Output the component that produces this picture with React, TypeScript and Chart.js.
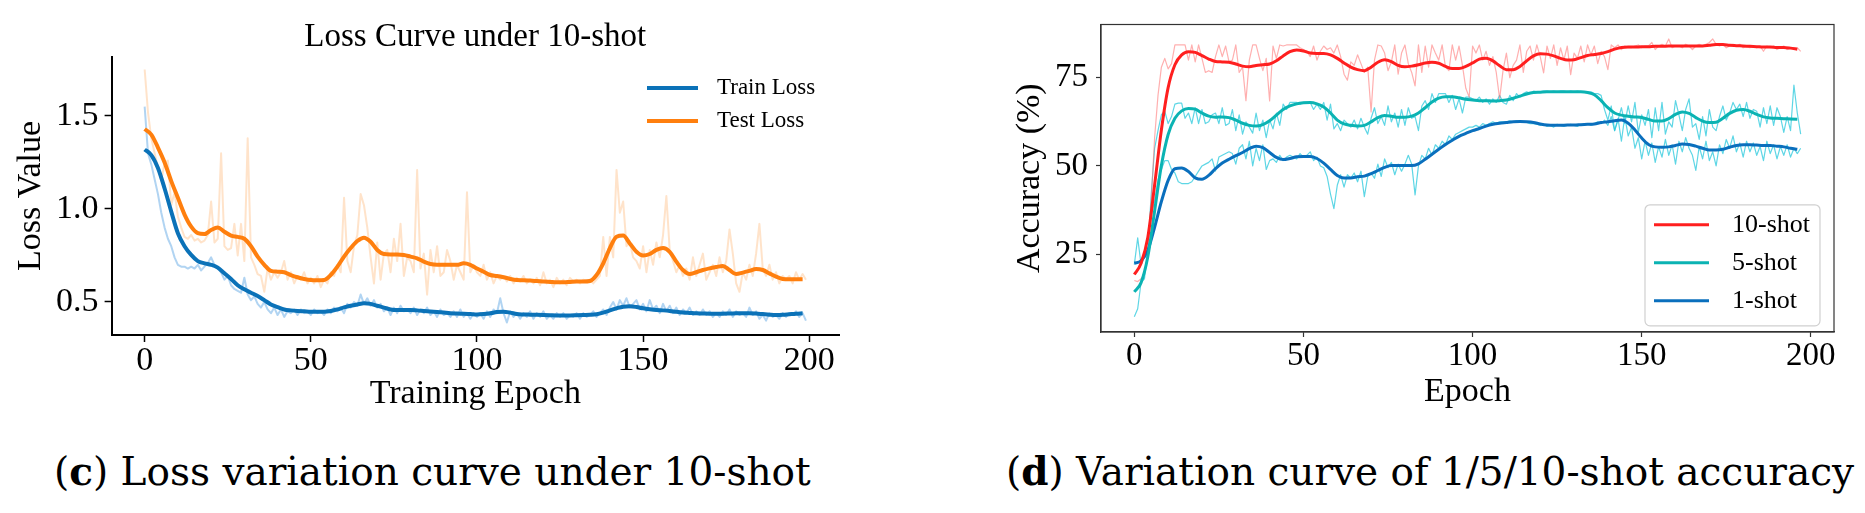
import { useEffect, useRef } from "react";
import { Chart, registerables } from "chart.js";

Chart.register(...registerables);

// ---------- (c) loss curves, epochs 0..199 ----------
const LOSS_EPOCHS = Array.from({ length: 200 }, (_, i) => i);
const LOSS_SMOOTH_EPOCHS = Array.from({ length: 100 }, (_, i) => i * 2);
const LOSS_X_TICKS = [0, 50, 100, 150, 200];
const LOSS_Y_TICKS = [0.5, 1.0, 1.5];

const TRAIN_SMOOTH = [
  1.32, 1.29, 1.22, 1.11, 0.986, 0.87, 0.80, 0.753, 0.72, 0.708,
  0.70, 0.685, 0.654, 0.624, 0.59, 0.568, 0.55, 0.532, 0.51, 0.487,
  0.473, 0.46, 0.455, 0.452, 0.45, 0.448, 0.448, 0.448, 0.452, 0.46,
  0.471, 0.48, 0.487, 0.493, 0.49, 0.48, 0.47, 0.46, 0.457, 0.457,
  0.457, 0.455, 0.452, 0.449, 0.446, 0.443, 0.44, 0.438, 0.437, 0.435,
  0.433, 0.435, 0.439, 0.446, 0.448, 0.443, 0.435, 0.433, 0.432, 0.431,
  0.43, 0.429, 0.428, 0.428, 0.428, 0.429, 0.43, 0.431, 0.434, 0.443,
  0.455, 0.466, 0.475, 0.477, 0.473, 0.466, 0.461, 0.457, 0.455, 0.452,
  0.447, 0.443, 0.441, 0.439, 0.438, 0.437, 0.437, 0.437, 0.438, 0.439,
  0.44, 0.44, 0.438, 0.435, 0.432, 0.43, 0.431, 0.434, 0.437, 0.439,
];

const TEST_SMOOTH = [
  1.43, 1.40, 1.33, 1.25, 1.15, 1.06, 0.97, 0.905, 0.87, 0.865,
  0.887, 0.90, 0.878, 0.857, 0.85, 0.84, 0.80, 0.744, 0.70, 0.667,
  0.663, 0.66, 0.645, 0.633, 0.624, 0.618, 0.617, 0.618, 0.645, 0.69,
  0.744, 0.79, 0.828, 0.846, 0.824, 0.78, 0.758, 0.756, 0.756, 0.753,
  0.744, 0.735, 0.717, 0.704, 0.70, 0.70, 0.70, 0.70, 0.708, 0.70,
  0.68, 0.663, 0.645, 0.64, 0.633, 0.624, 0.618, 0.617, 0.615, 0.613,
  0.61, 0.608, 0.606, 0.606, 0.608, 0.61, 0.61, 0.613, 0.645, 0.708,
  0.79, 0.851, 0.857, 0.815, 0.77, 0.75, 0.758, 0.78, 0.79, 0.77,
  0.717, 0.672, 0.65, 0.66, 0.672, 0.681, 0.688, 0.694, 0.672, 0.65,
  0.658, 0.667, 0.677, 0.672, 0.654, 0.636, 0.624, 0.622, 0.622, 0.622,
];

const TRAIN_RAW = [
  1.55, 1.30, 1.24, 1.16, 1.08, 0.98, 0.90, 0.84, 0.80, 0.74,
  0.70, 0.69, 0.69, 0.68, 0.69, 0.68, 0.70, 0.67, 0.69, 0.71,
  0.74, 0.70, 0.68, 0.66, 0.62, 0.64, 0.59, 0.57, 0.56, 0.55,
  0.63, 0.54, 0.51, 0.53, 0.49, 0.47, 0.50, 0.46, 0.44, 0.47,
  0.43, 0.46, 0.42, 0.45, 0.44, 0.46, 0.43, 0.46, 0.44, 0.45,
  0.43, 0.46, 0.44, 0.45, 0.43, 0.46, 0.44, 0.47, 0.45, 0.47,
  0.44, 0.49, 0.47, 0.50, 0.48, 0.54, 0.49, 0.52, 0.48, 0.51,
  0.47, 0.49, 0.45, 0.47, 0.43, 0.47, 0.44, 0.48, 0.45, 0.46,
  0.44, 0.47, 0.43, 0.46, 0.44, 0.47, 0.43, 0.45, 0.42, 0.46,
  0.43, 0.44, 0.42, 0.45, 0.42, 0.46, 0.42, 0.44, 0.41, 0.44,
  0.42, 0.44, 0.41, 0.45, 0.42, 0.46, 0.44, 0.52, 0.44, 0.39,
  0.45, 0.42, 0.44, 0.41, 0.44, 0.42, 0.45, 0.41, 0.44, 0.42,
  0.45, 0.41, 0.43, 0.41, 0.44, 0.42, 0.44, 0.41, 0.43, 0.42,
  0.44, 0.41, 0.44, 0.42, 0.43, 0.45, 0.42, 0.44, 0.46, 0.43,
  0.47, 0.50, 0.46, 0.51, 0.48, 0.52, 0.47, 0.49, 0.51, 0.46,
  0.49, 0.45, 0.51, 0.46, 0.48, 0.44, 0.49, 0.45, 0.48, 0.44,
  0.47, 0.43, 0.46, 0.44, 0.47, 0.43, 0.45, 0.43, 0.46, 0.43,
  0.45, 0.42, 0.44, 0.42, 0.45, 0.43, 0.46, 0.42, 0.45, 0.43,
  0.44, 0.42, 0.47, 0.43, 0.45, 0.41, 0.43, 0.40, 0.44, 0.42,
  0.43, 0.41, 0.44, 0.42, 0.44, 0.43, 0.45, 0.42, 0.44, 0.40,
];

const TEST_RAW = [
  1.75, 1.52, 1.38, 1.30, 1.22, 1.15, 1.25, 1.26, 1.02, 1.09,
  0.96, 0.90, 0.85, 0.84, 0.86, 0.83, 0.84, 0.82, 0.83, 0.86,
  1.04, 0.82, 0.84, 1.30, 0.80, 0.78, 0.79, 0.92, 0.75, 0.92,
  0.72, 1.38, 0.74, 0.70, 0.65, 0.64, 0.555, 0.68, 0.62, 0.66,
  0.63, 0.66, 0.72, 0.62, 0.66, 0.60, 0.64, 0.62, 0.66, 0.60,
  0.63, 0.60, 0.64, 0.58, 0.62, 0.60, 0.66, 0.64, 0.70, 0.66,
  1.06, 0.72, 0.66, 0.80, 0.86, 1.08, 1.02, 0.90, 0.74, 0.60,
  0.82, 0.62, 0.76, 0.78, 0.66, 0.84, 0.72, 0.92, 0.64, 0.74,
  0.72, 0.66, 1.21, 0.68, 0.76, 0.54, 0.78, 0.66, 0.80, 0.64,
  0.66, 0.78, 0.72, 0.62, 0.70, 0.66, 0.62, 1.09, 0.66, 0.70,
  0.66, 0.64, 0.70, 0.62, 0.66, 0.60, 0.64, 0.62, 0.64, 0.61,
  0.64, 0.60, 0.63, 0.61, 0.64, 0.60, 0.62, 0.60, 0.63, 0.59,
  0.66, 0.60, 0.62, 0.58, 0.63, 0.60, 0.62, 0.59, 0.63, 0.61,
  0.62, 0.60, 0.62, 0.61, 0.62, 0.60, 0.62, 0.64, 0.85, 0.64,
  0.85, 0.74, 1.21, 0.98, 1.04, 0.80, 0.82, 0.74, 0.72, 0.68,
  0.80, 0.66, 0.78, 0.70, 0.82, 0.74, 0.86, 1.07, 0.78, 0.72,
  0.66, 0.70, 0.64, 0.68, 0.62, 0.74, 0.64, 0.70, 0.76, 0.62,
  0.66, 0.70, 0.64, 0.74, 0.66, 0.72, 0.89, 0.76, 0.60, 0.555,
  0.66, 0.62, 0.70, 0.64, 0.76, 0.92, 0.68, 0.64, 0.70, 0.62,
  0.66, 0.60, 0.64, 0.62, 0.64, 0.60, 0.66, 0.62, 0.65, 0.62,
];

// ---------- (d) accuracy curves, epochs 0..197 ----------
const ACC_EPOCHS = Array.from({ length: 198 }, (_, i) => i);
const ACC_SMOOTH_EPOCHS = Array.from({ length: 99 }, (_, i) => i * 2);
const ACC_X_TICKS = [0, 50, 100, 150, 200];
const ACC_Y_TICKS = [25, 50, 75];

const SHOT10_SMOOTH = [
  19.2, 22.4, 29.8, 44.6, 60.2, 72.2, 78.7, 81.5, 82.4, 82.2,
  81.3, 80.3, 79.6, 79.5, 79.4, 78.9, 78.3, 78.1, 78.5, 78.7,
  78.9, 79.8, 81.2, 82.4, 82.9, 82.6, 82.0, 81.9, 81.9, 81.5,
  80.5, 79.2, 78.0, 77.3, 77.0, 78.0, 79.4, 80.1, 79.6, 78.5,
  78.1, 78.3, 78.7, 79.2, 79.4, 79.1, 78.2, 77.6, 77.6, 78.2,
  79.2, 80.3, 80.5, 79.8, 78.4, 77.3, 77.3, 78.2, 79.8, 81.2,
  81.8, 81.7, 81.2, 80.5, 80.0, 80.1, 80.7, 81.3, 81.6, 81.9,
  82.4, 83.1, 83.6, 83.7, 83.7, 83.8, 83.8, 83.9, 83.9, 84.0,
  84.0, 84.0, 84.0, 84.0, 84.0, 84.2, 84.4, 84.4, 84.2, 84.1,
  84.0, 83.9, 83.8, 83.7, 83.7, 83.6, 83.6, 83.4, 83.1,
];

const SHOT5_SMOOTH = [
  14.3, 16.9, 24.3, 37.2, 50.1, 58.9, 63.5, 65.6, 66.3, 66.1,
  65.0, 64.1, 63.8, 63.9, 63.7, 63.0, 62.1, 61.5, 61.3, 61.7,
  62.8, 64.4, 66.0, 67.0, 67.6, 67.9, 68.0, 67.6, 66.7, 65.0,
  63.0, 61.9, 61.5, 61.3, 61.5, 62.5, 63.7, 64.3, 64.1, 63.8,
  63.8, 64.1, 65.0, 66.5, 68.1, 69.2, 69.6, 69.6, 69.3, 68.9,
  68.7, 68.5, 68.5, 68.4, 68.5, 68.7, 69.2, 69.8, 70.4, 70.8,
  70.9, 71.0, 71.0, 71.0, 71.0, 71.0, 71.0, 70.8, 70.2, 68.5,
  66.5, 65.0, 64.4, 64.1, 63.9, 63.7, 63.2, 62.7, 62.7, 63.4,
  64.6, 65.3, 64.9, 63.7, 62.7, 62.3, 62.4, 63.5, 64.9, 65.8,
  66.0, 65.5, 64.6, 63.9, 63.6, 63.5, 63.4, 63.3, 63.2,
];

const SHOT1_SMOOTH = [
  22.4, 23.1, 26.1, 32.6, 39.9, 45.9, 49.2, 49.4, 48.4, 46.6,
  46.2, 47.3, 49.2, 50.8, 51.9, 52.9, 53.8, 54.9, 55.6, 55.2,
  53.8, 52.4, 51.8, 52.1, 52.6, 52.7, 52.7, 52.1, 50.8, 49.0,
  47.3, 46.6, 46.6, 46.9, 47.1, 47.8, 48.7, 49.6, 50.1, 50.1,
  50.1, 50.1, 50.6, 51.9, 53.3, 54.7, 56.1, 57.3, 58.4, 59.2,
  60.0, 60.6, 61.3, 61.8, 62.1, 62.3, 62.5, 62.6, 62.5, 62.3,
  61.9, 61.6, 61.5, 61.5, 61.6, 61.6, 61.7, 61.8, 61.9, 62.3,
  62.5, 62.8, 63.0, 62.1, 60.2, 57.9, 56.1, 55.4, 55.3, 55.4,
  55.8, 56.2, 56.1, 55.6, 55.0, 54.5, 54.5, 54.7, 55.3, 55.8,
  56.0, 56.0, 55.9, 55.8, 55.8, 55.6, 55.4, 55.0, 54.7,
];

const SHOT10_RAW = [
  17.5, 17.2, 18.0, 19.5, 24.0, 40.0, 58.0, 70.0, 78.0, 80.5,
  77.5, 79.0, 84.3, 84.3, 84.3, 84.3, 80.0, 84.3, 79.5, 84.3,
  80.5, 76.5, 77.0, 76.5, 81.0, 84.3, 81.0, 84.0, 79.5, 80.0,
  84.3, 76.5, 78.0, 68.5, 80.0, 84.3, 84.3, 80.5, 77.0, 80.5,
  68.4, 84.0, 80.5, 84.3, 84.0, 84.3, 84.3, 84.3, 84.3, 83.5,
  83.0, 82.5, 81.0, 84.0, 80.0, 82.5, 84.0, 83.0, 83.5, 82.0,
  84.3, 81.0, 76.0, 74.3, 79.5, 78.5, 81.5, 79.0, 76.5, 78.0,
  65.3, 80.0, 84.3, 84.0, 82.0, 77.0, 79.5, 84.3, 76.0, 82.0,
  84.3, 79.0, 76.5, 72.7, 84.3, 76.5, 84.0, 78.0, 84.3, 82.0,
  80.0, 84.3, 78.0, 77.0, 84.3, 80.0, 84.0, 78.5, 72.0, 69.5,
  84.0, 82.0, 84.3, 80.0, 82.5, 78.5, 81.0, 76.5, 69.0, 77.0,
  82.0, 75.0, 78.5, 80.0, 84.3, 76.5, 82.5, 84.0, 80.0, 84.3,
  81.0, 76.4, 84.0, 80.5, 84.3, 78.5, 83.5, 80.0, 84.0, 75.9,
  82.0, 80.5, 84.0, 79.5, 84.3, 81.5, 84.0, 79.0, 82.5, 81.0,
  77.3, 84.3, 83.5, 84.3, 83.0, 84.0, 83.5, 83.5, 84.0, 84.3,
  83.5, 84.0, 84.0, 85.0, 83.0, 84.0, 84.5, 84.0, 86.0, 83.5,
  84.0, 84.0, 83.5, 84.5, 84.0, 83.0, 84.0, 84.5, 84.0, 84.5,
  85.0, 86.0, 84.5, 84.0, 84.5, 83.5, 84.0, 84.5, 84.0, 84.5,
  83.5, 84.0, 83.5, 84.0, 83.5, 84.0, 82.5, 84.0, 83.5, 84.0,
  83.0, 83.5, 84.0, 83.0, 83.5, 83.0, 83.5, 82.5,
];

const SHOT5_RAW = [
  7.2, 9.5, 17.0, 18.0, 26.0, 42.0, 55.0, 60.0, 64.5, 65.5,
  62.0, 64.0, 67.5, 67.8, 67.8, 63.5, 65.0, 62.0, 66.5, 62.0,
  66.0, 62.0, 62.5, 64.5, 65.0, 62.0, 66.5, 61.5, 62.0, 66.0,
  60.0, 64.5, 59.0, 62.5, 61.0, 59.3, 65.0, 60.0, 63.0, 58.0,
  63.0, 60.5, 65.0, 61.5, 67.5, 66.0, 68.0, 68.0, 68.0, 67.5,
  68.0, 68.0, 68.0, 66.0, 67.5, 66.0, 68.0, 63.0, 67.5, 60.5,
  62.0, 60.0, 63.0, 62.0, 61.0, 63.0, 60.5, 63.5, 61.0, 59.0,
  63.5, 66.5, 62.0, 64.0, 61.5, 67.0, 62.5, 65.0, 61.0, 66.0,
  61.5, 66.5, 63.5, 64.0, 60.0, 67.0, 68.5, 66.0, 70.5, 68.0,
  70.5, 70.5, 70.5, 68.0, 70.0, 66.0, 69.0, 65.0, 69.5, 69.5,
  69.0, 68.5, 69.5, 68.0, 69.0, 67.5, 69.0, 68.0, 70.0, 68.0,
  67.5, 70.0, 68.5, 70.5, 69.5, 70.5, 71.0, 70.5, 71.2, 71.0,
  71.0, 71.2, 71.2, 71.0, 71.2, 71.0, 71.2, 71.2, 71.0, 71.2,
  71.0, 71.2, 71.0, 71.0, 71.0, 71.0, 70.5, 70.5, 70.0, 66.0,
  63.0, 67.0, 60.0, 63.0, 66.5, 62.0, 67.0, 62.5, 68.0, 59.5,
  64.5, 61.5, 66.0, 58.0, 66.5, 60.0, 68.0, 59.0, 62.5, 61.0,
  68.5, 64.5, 60.0, 66.0, 69.0, 61.0, 62.0, 57.5, 64.0, 58.5,
  66.0, 61.0, 60.0, 64.0, 67.0, 63.0, 65.0, 68.0, 66.0, 67.5,
  64.0, 68.0, 63.5, 66.0, 65.5, 61.0, 66.5, 62.0, 67.0, 61.5,
  66.5, 64.0, 59.5, 64.0, 60.0, 72.9, 65.0, 59.0,
];

const SHOT1_RAW = [
  22.0, 29.6, 22.0, 24.0, 30.0, 36.0, 40.0, 46.0, 49.0, 51.5,
  51.5, 49.0, 48.0, 45.5, 45.0, 45.0, 45.0, 45.5, 47.0, 48.5,
  50.0, 50.5, 51.0, 52.0, 48.5, 52.5, 53.0, 53.5, 54.0, 53.5,
  50.5, 55.0, 56.0, 52.0, 57.0, 50.0, 55.0, 51.5, 56.0, 49.0,
  51.5, 52.0, 51.0, 53.0, 51.5, 52.5, 53.0, 52.5, 52.0, 53.5,
  52.5, 53.0, 54.0, 51.5, 52.5, 50.0, 49.5, 47.0, 42.0, 37.9,
  44.5, 47.5, 44.0, 47.5, 46.5, 48.0, 45.5, 48.5, 41.3, 47.0,
  48.0, 46.5, 50.5, 47.0, 52.0, 49.5, 51.0, 47.5, 50.5, 48.5,
  50.5, 53.0, 50.5, 41.8, 50.0, 53.0, 52.0, 55.0, 53.0, 56.0,
  55.0, 57.0, 56.0, 58.5, 57.5, 59.0, 59.5, 60.0, 60.5, 61.0,
  61.0, 61.5, 61.0, 62.0, 61.5, 62.0, 62.5, 62.0, 62.5, 62.5,
  62.5, 62.8, 62.5, 62.8, 62.5, 62.5, 62.3, 62.0, 62.0, 61.8,
  61.5, 61.8, 61.2, 61.5, 61.0, 61.8, 61.5, 61.2, 61.5, 61.8,
  61.5, 61.2, 61.8, 61.5, 62.0, 61.5, 62.0, 62.5, 62.0, 63.0,
  61.5, 64.0, 60.0, 63.5, 57.0, 64.0, 58.5, 61.0, 55.0, 58.0,
  52.0, 57.0, 53.0, 56.5, 51.0, 55.5, 52.5, 57.5, 53.0, 56.0,
  50.5, 57.0, 54.0, 58.0, 55.0, 53.0, 48.7, 55.5, 52.0, 57.0,
  51.5, 54.0, 50.0, 56.0, 53.5, 57.5, 55.0, 58.5, 54.0, 56.5,
  52.5, 57.0, 54.0, 56.5, 53.0, 55.5, 51.5, 57.0, 53.5, 56.0,
  52.0, 55.5, 53.0, 56.0, 52.5, 55.0, 53.5, 55.0,
];

const SERIF = "'Liberation Serif', 'Times New Roman', serif";
const CAPTION_FONT = "'DejaVu Serif', 'Liberation Serif', serif";

const pts = (xs: number[], ys: number[]) => ys.map((y, i) => ({ x: xs[i], y }));

// legend drawn inside the plot area (matplotlib style)
const insideLegend = {
  id: "insideLegend",
  afterDatasetsDraw(chart: any, _args: any, opts: any) {
    if (!opts || !opts.display) return;
    const { ctx, chartArea } = chart;
    const items = chart.data.datasets.filter((d: any) => d.inLegend);
    ctx.save();
    if (opts.frame) {
      const f = opts.frame;
      const fx = chartArea.right - f.right - f.width;
      const fy = chartArea.top + f.top;
      ctx.beginPath();
      ctx.roundRect(fx, fy, f.width, f.height, 5);
      ctx.fillStyle = "rgba(255,255,255,0.85)";
      ctx.fill();
      ctx.strokeStyle = "#d0d0d0";
      ctx.lineWidth = 1.2;
      ctx.stroke();
    }
    ctx.font = `${opts.fontSize}px ${SERIF}`;
    ctx.textBaseline = "middle";
    ctx.fillStyle = "#000";
    items.forEach((d: any, i: number) => {
      const y = chartArea.top + opts.top + i * opts.rowGap;
      const x0 = chartArea.right - opts.right;
      ctx.beginPath();
      ctx.moveTo(x0, y);
      ctx.lineTo(x0 + opts.lineLen, y);
      ctx.strokeStyle = d.borderColor;
      ctx.lineWidth = opts.lineWidth;
      ctx.stroke();
      ctx.fillText(d.label, x0 + opts.lineLen + opts.textGap, y);
    });
    ctx.restore();
  },
};

// full box around the plot area
const frameBox = {
  id: "frameBox",
  afterDraw(chart: any, _args: any, opts: any) {
    if (!opts || !opts.display) return;
    const { ctx, chartArea } = chart;
    ctx.save();
    ctx.strokeStyle = opts.color;
    ctx.lineWidth = opts.width;
    ctx.strokeRect(chartArea.left, chartArea.top, chartArea.right - chartArea.left, chartArea.bottom - chartArea.top);
    ctx.restore();
  },
};

function LossChart() {
  const canvasRef = useRef<HTMLCanvasElement>(null);

  useEffect(() => {
    if (!canvasRef.current) return;
    const chart = new Chart(canvasRef.current, {
      type: "line",
      data: {
        datasets: [
          { label: "Train Loss", inLegend: true, data: pts(LOSS_SMOOTH_EPOCHS, TRAIN_SMOOTH), borderColor: "#0b72b8", borderWidth: 4, cubicInterpolationMode: "monotone" },
          { label: "Test Loss", inLegend: true, data: pts(LOSS_SMOOTH_EPOCHS, TEST_SMOOTH), borderColor: "#ff7f0e", borderWidth: 4, cubicInterpolationMode: "monotone" },
          { label: "Train raw", data: pts(LOSS_EPOCHS, TRAIN_RAW), borderColor: "rgba(100,170,230,0.5)", borderWidth: 2 },
          { label: "Test raw", data: pts(LOSS_EPOCHS, TEST_RAW), borderColor: "rgba(255,127,14,0.22)", borderWidth: 2 },
        ] as any,
      },
      plugins: [insideLegend],
      options: {
        animation: false,
        responsive: true,
        maintainAspectRatio: false,
        elements: { point: { radius: 0 }, line: { borderJoinStyle: "round" } },
        layout: { padding: { left: 0, right: 21, top: 0, bottom: 0 } },
        scales: {
          x: {
            type: "linear",
            min: -9.95,
            max: 208.95,
            afterBuildTicks: (s: any) => { s.ticks = LOSS_X_TICKS.map((v) => ({ value: v })); },
            afterFit: (s: any) => { s.height = 85; },
            ticks: { font: { family: SERIF, size: 34, lineHeight: 1 }, color: "#000", padding: 2, maxRotation: 0 },
            grid: { display: true, drawOnChartArea: false, drawTicks: true, tickLength: 7, tickWidth: 1.5, tickColor: "#000" },
            border: { display: true, color: "#000", width: 2 },
            title: { display: true, text: "Training Epoch", color: "#000", font: { family: SERIF, size: 34, lineHeight: 1.2 }, padding: { top: 0, bottom: 6 } },
          },
          y: {
            min: 0.3226,
            max: 1.817,
            afterBuildTicks: (s: any) => { s.ticks = LOSS_Y_TICKS.map((v) => ({ value: v })); },
            afterFit: (s: any) => { s.width = 111.6; },
            ticks: { font: { family: SERIF, size: 34, lineHeight: 1 }, color: "#000", padding: 6, callback: (v: any) => Number(v).toFixed(1) },
            grid: { display: true, drawOnChartArea: false, drawTicks: true, tickLength: 7, tickWidth: 1.5, tickColor: "#000" },
            border: { display: true, color: "#000", width: 2 },
            title: { display: true, text: "Loss Value", color: "#000", font: { family: SERIF, size: 34, lineHeight: 1.2 }, padding: { top: 10.6, bottom: 0 } },
          },
        },
        plugins: {
          legend: { display: false },
          tooltip: { enabled: false },
          title: {
            display: true,
            fullSize: false,
            text: "Loss Curve under 10-shot",
            color: "#000",
            font: { family: SERIF, size: 33, weight: "normal", lineHeight: 1.17 },
            padding: { top: 18.4, bottom: 0 },
          },
          insideLegend: { display: true, right: 192, top: 31, rowGap: 33, lineLen: 51, textGap: 19, lineWidth: 4, fontSize: 23 },
        } as any,
      },
    });
    return () => { chart.destroy(); };
  }, []);

  return (
    <div style={{ position: "absolute", left: 0, top: 0, width: 860, height: 420 }}>
      <canvas ref={canvasRef} />
    </div>
  );
}

function AccuracyChart() {
  const canvasRef = useRef<HTMLCanvasElement>(null);

  useEffect(() => {
    if (!canvasRef.current) return;
    const chart = new Chart(canvasRef.current, {
      type: "line",
      data: {
        datasets: [
          { label: "10-shot", inLegend: true, data: pts(ACC_SMOOTH_EPOCHS, SHOT10_SMOOTH), borderColor: "#ff1f1f", borderWidth: 3, cubicInterpolationMode: "monotone" },
          { label: "5-shot", inLegend: true, data: pts(ACC_SMOOTH_EPOCHS, SHOT5_SMOOTH), borderColor: "#0bb3b3", borderWidth: 3, cubicInterpolationMode: "monotone" },
          { label: "1-shot", inLegend: true, data: pts(ACC_SMOOTH_EPOCHS, SHOT1_SMOOTH), borderColor: "#0a6fbd", borderWidth: 3, cubicInterpolationMode: "monotone" },
          { label: "10-shot raw", data: pts(ACC_EPOCHS, SHOT10_RAW), borderColor: "rgba(255,110,110,0.55)", borderWidth: 1.2 },
          { label: "5-shot raw", data: pts(ACC_EPOCHS, SHOT5_RAW), borderColor: "rgba(40,200,220,0.75)", borderWidth: 1.2 },
          { label: "1-shot raw", data: pts(ACC_EPOCHS, SHOT1_RAW), borderColor: "rgba(40,200,220,0.75)", borderWidth: 1.2 },
        ] as any,
      },
      plugins: [insideLegend, frameBox],
      options: {
        animation: false,
        responsive: true,
        maintainAspectRatio: false,
        elements: { point: { radius: 0 }, line: { borderJoinStyle: "round" } },
        layout: { padding: { left: 0, right: 31, top: 16.7, bottom: 0 } },
        scales: {
          x: {
            type: "linear",
            min: -9.85,
            max: 206.85,
            afterBuildTicks: (s: any) => { s.ticks = ACC_X_TICKS.map((v) => ({ value: v })); },
            afterFit: (s: any) => { s.height = 88; },
            ticks: { font: { family: SERIF, size: 33, lineHeight: 1 }, color: "#000", padding: 2.5, maxRotation: 0 },
            grid: { display: true, drawOnChartArea: false, drawTicks: true, tickLength: 5, tickWidth: 1.2, tickColor: "#333" },
            border: { display: true, color: "#333", width: 1.2 },
            title: { display: true, text: "Epoch", color: "#000", font: { family: SERIF, size: 34, lineHeight: 1.2 }, padding: { top: 0, bottom: 8 } },
          },
          y: {
            min: 2.9,
            max: 90.1,
            afterBuildTicks: (s: any) => { s.ticks = ACC_Y_TICKS.map((v) => ({ value: v })); },
            afterFit: (s: any) => { s.width = 111; },
            ticks: { font: { family: SERIF, size: 33, lineHeight: 1 }, color: "#000", padding: 8 },
            grid: { display: true, drawOnChartArea: false, drawTicks: true, tickLength: 5, tickWidth: 1.2, tickColor: "#333" },
            border: { display: true, color: "#333", width: 1.2 },
            title: { display: true, text: "Accuracy (%)", color: "#000", font: { family: SERIF, size: 34, lineHeight: 1.2 }, padding: { top: 19.6, bottom: 0 } },
          },
        },
        plugins: {
          legend: { display: false },
          tooltip: { enabled: false },
          frameBox: { display: true, color: "#333", width: 1.2 },
          insideLegend: {
            display: true,
            right: 180, top: 200.3, rowGap: 38, lineLen: 55, textGap: 23, lineWidth: 3, fontSize: 26,
            frame: { right: 14, width: 175, top: 180.3, height: 121 },
          },
        } as any,
      },
    });
    return () => { chart.destroy(); };
  }, []);

  return (
    <div style={{ position: "absolute", left: 990, top: 0, width: 875, height: 420 }}>
      <canvas ref={canvasRef} />
    </div>
  );
}

const captionStyle: React.CSSProperties = {
  position: "absolute",
  top: 452,
  fontFamily: CAPTION_FONT,
  fontSize: 39,
  lineHeight: "39px",
  whiteSpace: "nowrap",
  color: "#000",
};

export default function App() {
  return (
    <div style={{ position: "absolute", left: 0, top: 0, width: 1865, height: 513, background: "#fff", overflow: "hidden" }}>
      <LossChart />
      <AccuracyChart />
      <div style={{ ...captionStyle, left: 54 }}>
        (<b>c</b>) Loss variation curve under 10-shot
      </div>
      <div style={{ ...captionStyle, left: 1006 }}>
        (<b>d</b>) Variation curve of 1/5/10-shot accuracy
      </div>
    </div>
  );
}
